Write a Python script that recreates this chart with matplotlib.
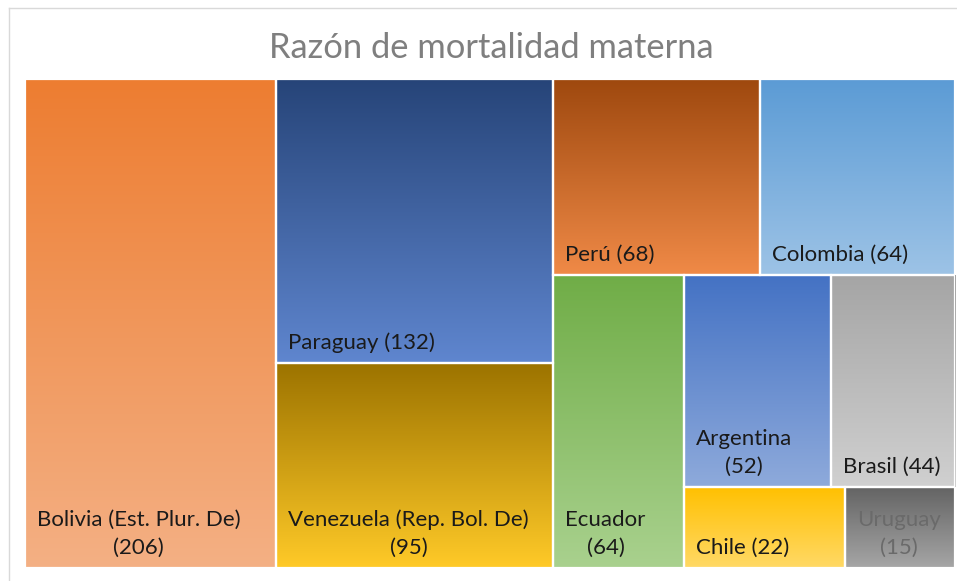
import numpy as np
import matplotlib
matplotlib.use("Agg")
import matplotlib.pyplot as plt
from matplotlib.colors import to_rgb
from matplotlib.patches import Rectangle

# ---------------- data ----------------
countries = ["Bolivia (Est. Plur. De)", "Paraguay", "Venezuela (Rep. Bol. De)", "Perú",
             "Colombia", "Ecuador", "Argentina", "Brasil", "Chile", "Uruguay"]
values = [206, 132, 95, 68, 64, 64, 52, 44, 22, 15]
title = "Razón de mortalidad materna"

# ---------------- style ----------------
top_colors = ["#ED7D31", "#264478", "#9C7300", "#9E480E", "#5B9BD5",
              "#70AD47", "#4472C4", "#A5A5A5", "#FFC000", "#636363"]
bottom_colors = ["#F4B084", "#5F86CF", "#FFCA28", "#F08A47", "#9DC3E6",
                 "#A9D18E", "#8EAADB", "#D0D0D0", "#FFD966", "#A6A6A6"]
label_colors = ["#1a1a1a"] * 9 + ["#6a6a6a"]
row_groups = [1, 2, 2, 1, 2, 1, 1]   # items per strip (Excel-like layout)

FONT = ["Lato", "DejaVu Sans"]
W_PX, H_PX = 957, 581
DPI = 100
fig = plt.figure(figsize=(W_PX / DPI, H_PX / DPI), dpi=DPI)
fig.patch.set_facecolor("white")

# background frame
bg = fig.add_axes([0, 0, 1, 1])
bg.set_xlim(0, W_PX)
bg.set_ylim(H_PX, 0)
bg.axis("off")
bg.plot([8.5, W_PX], [7.5, 7.5], color="#d9d9d9", lw=1)
bg.plot([8.5, 8.5], [7.5, H_PX], color="#d9d9d9", lw=1)

# treemap axes (in pixel units)
left, top, right, bottom = 25, 79, 955, 568
aw, ah = right - left, bottom - top
ax = fig.add_axes([left / W_PX, 1 - bottom / H_PX, aw / W_PX, ah / H_PX])
ax.set_xlim(0, aw)
ax.set_ylim(ah, 0)
ax.axis("off")


def layout(vals, W, H, groups):
    rects = []
    x, y, w, h = 0.0, 0.0, float(W), float(H)
    scale = W * H / sum(vals)
    i = 0
    for n in groups:
        row = vals[i:i + n]
        s = sum(row) * scale
        if w >= h:
            cw = s / h
            yy = y
            for v in row:
                rh = v * scale / cw
                rects.append((x, yy, cw, rh))
                yy += rh
            x += cw
            w -= cw
        else:
            rh = s / w
            xx = x
            for v in row:
                rw = v * scale / rh
                rects.append((xx, y, rw, rh))
                xx += rw
            y += rh
            h -= rh
        i += n
    return rects


rects = layout(values, aw, ah, row_groups)
renderer = fig.canvas.get_renderer()
pad = 12

for k, (x, y, w, h) in enumerate(rects):
    c0 = np.array(to_rgb(top_colors[k]))
    c1 = np.array(to_rgb(bottom_colors[k]))
    t = np.linspace(0, 1, 256)[:, None, None]
    grad = c0[None, None, :] * (1 - t) + c1[None, None, :] * t
    ax.imshow(grad, extent=(x, x + w, y + h, y), aspect="auto",
              interpolation="bilinear", zorder=1)
    ax.add_patch(Rectangle((x, y), w, h, facecolor="none", edgecolor="white",
                           lw=1.6, zorder=2))
    label = f"{countries[k]} ({values[k]})"
    txt = ax.text(x + pad, y + h - 10, label, ha="left", va="bottom",
                  multialignment="center", fontsize=16, family=FONT,
                  color=label_colors[k], linespacing=1.5, zorder=3)
    if txt.get_window_extent(renderer).width > w - pad - 8:
        txt.set_text(f"{countries[k]}\n({values[k]})")

ax.set_xlim(0, aw)
ax.set_ylim(ah, 0)

fig.text(491 / W_PX, 1 - 58 / H_PX, title, ha="center", va="baseline",
         fontsize=24.8, family=FONT, color="#7f7f7f")

fig.savefig("out.png", dpi=DPI)
